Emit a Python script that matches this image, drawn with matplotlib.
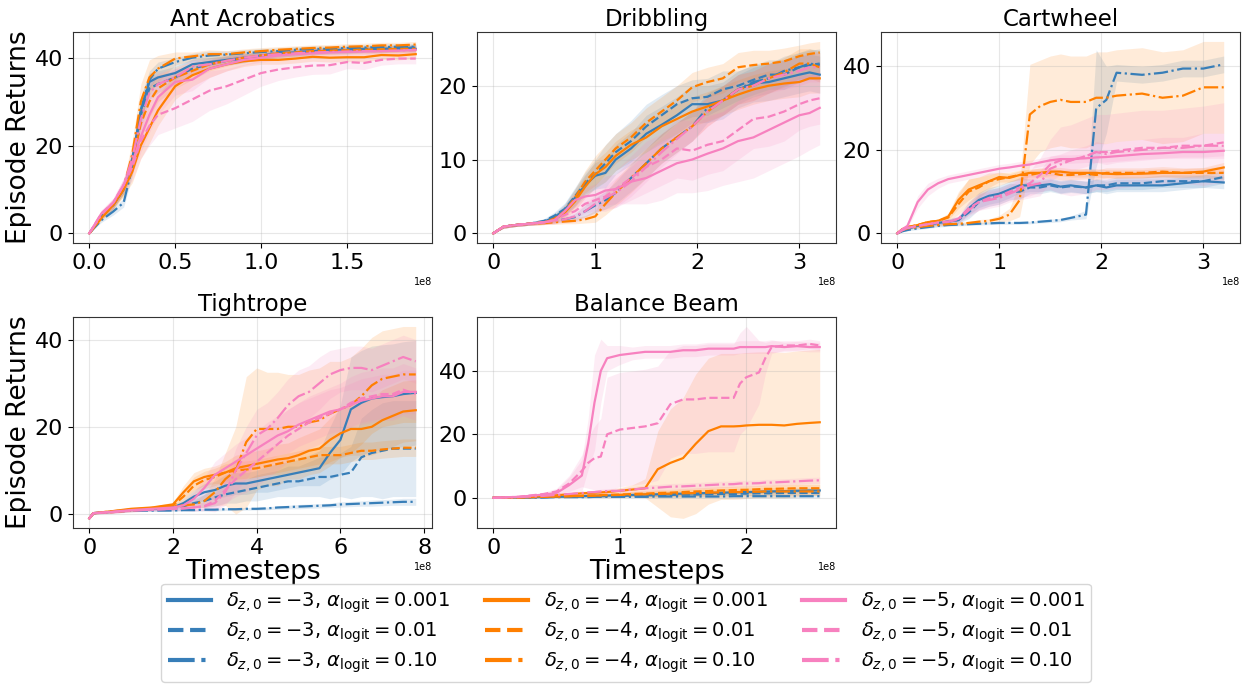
import matplotlib
matplotlib.use("Agg")
import matplotlib.pyplot as plt
import numpy as np
from matplotlib.ticker import MultipleLocator

# series order in every table: d=-3 (a=0.001, 0.01, 0.10), d=-4 (...), d=-5 (...)
COLORS = ["#377eb8", "#ff7f00", "#f781bf"]
STYLES = ["-", "--", "-."]
DELTAS = ["-3", "-4", "-5"]
ALPHAS = ["0.001", "0.01", "0.10"]

TITLES = ["Ant Acrobatics", "Dribbling", "Cartwheel", "Tightrope", "Balance Beam"]
X_STEPS = [0.5e8, 1e8, 1e8, 2e8, 1e8]
Y_STEPS = [20, 10, 20, 20, 20]

# ---------------- Ant Acrobatics (timesteps in 1e8)
ANT_X = [0, 0.07, 0.14, 0.2, 0.25, 0.3, 0.35, 0.4, 0.5, 0.6, 0.7, 0.8, 0.9, 1.0,
         1.1, 1.2, 1.3, 1.4, 1.5, 1.6, 1.7, 1.8, 1.9]
ANT_MEAN = [
    [0, 4.0, 6.5, 10, 17, 28, 34.5, 35.5, 36.5, 38.5, 39, 39.5, 40, 40.3, 40.8, 41, 41.3, 41.5, 41.6, 41.8, 41.8, 42, 42],
    [0, 3.8, 6.5, 10, 16, 27, 33, 34, 35.5, 37.5, 38.5, 39.3, 39.8, 40.5, 41, 41.2, 41.5, 41.7, 41.8, 42, 42, 42.2, 42.3],
    [0, 3.0, 5.0, 7.0, 15, 28, 35, 37.5, 39, 40, 40.5, 40.7, 41, 41.3, 41.5, 41.8, 42, 42, 42.2, 42.3, 42.4, 42.5, 42.5],
    [0, 3.5, 6.5, 10, 14, 20, 24, 28, 33.5, 36, 37.5, 38.5, 39.2, 39.5, 39.5, 39.8, 40.2, 40, 40.1, 40.1, 40.6, 40.5, 40.8],
    [0, 3.5, 6.5, 10, 16, 25, 30, 33, 35.5, 37, 38.5, 39.3, 40, 40.5, 41, 41.2, 41.5, 41.6, 41.7, 41.8, 41.9, 42, 42],
    [0, 3.8, 6.8, 10.5, 18, 30, 35.5, 37.5, 39.8, 40.3, 40.8, 40.8, 41.2, 41.5, 41.8, 42, 42.2, 42.3, 42.5, 42.6, 42.8, 42.8, 43],
    [0, 4.5, 7.0, 11, 16, 22, 27, 31, 34.5, 35, 37.5, 38.5, 39.5, 40, 40.5, 40.8, 41, 41.2, 41.3, 41.4, 41.5, 41.6, 41.8],
    [0, 4.5, 7.0, 11, 15, 21, 24.5, 27, 28.5, 30.5, 32.5, 33.5, 35, 36.5, 37.3, 37.8, 38.2, 38.3, 39, 38.8, 39.5, 39.8, 39.8],
    [0, 4.2, 7.0, 11, 17, 26, 32, 34, 35.5, 38, 38.5, 39.3, 40, 40.5, 40.8, 41, 41.2, 41.3, 41.4, 41.5, 41.5, 41.6, 41.7],
]
ANT_SPREAD = [
    [0, 0.5, 0.8, 1, 2, 3, 2, 1.5, 1.5, 1.2, 1, 1, 1, 0.8, 0.8, 0.8, 0.7, 0.7, 0.7, 0.7, 0.7, 0.7, 0.7],
    [0, 0.5, 0.8, 1, 2, 3, 2.5, 2, 1.5, 1.2, 1, 1, 1, 0.8, 0.8, 0.8, 0.7, 0.7, 0.7, 0.7, 0.7, 0.7, 0.7],
    [0, 0.5, 0.8, 1, 2, 3, 2, 1.5, 1, 1, 1, 0.8, 0.8, 0.8, 0.7, 0.7, 0.7, 0.7, 0.7, 0.7, 0.7, 0.7, 0.7],
    [0, 0.5, 1, 1.5, 2.5, 3, 3.5, 3.5, 3, 2.5, 2, 1.5, 1.2, 1, 1, 1, 1, 1, 1, 1, 1, 1, 1],
    [0, 0.5, 1, 1.5, 2.5, 3.5, 3.5, 3, 2.5, 2, 1.5, 1.2, 1, 1, 1, 0.8, 0.8, 0.8, 0.8, 0.8, 0.8, 0.8, 0.8],
    [0, 0.5, 1, 1.5, 3, 4, 4, 3, 1.5, 1, 1, 0.8, 0.8, 0.8, 0.7, 0.7, 0.7, 0.7, 0.7, 0.7, 0.7, 0.7, 0.7],
    [0, 0.8, 1, 1.5, 2.5, 3.5, 4, 4, 3, 2.5, 2, 1.5, 1.2, 1, 1, 1, 1, 1, 1, 1, 1, 1, 1],
    [0, 0.8, 1, 1.5, 3, 4, 4.5, 4.5, 4.5, 5, 4.5, 4, 3.5, 3, 2.5, 2.2, 2, 2, 1.5, 1.5, 1.2, 1.2, 1.2],
    [0, 0.8, 1, 1.5, 2.5, 3.5, 3, 2.5, 2, 1.5, 1.2, 1, 1, 1, 0.8, 0.8, 0.8, 0.8, 0.8, 0.8, 0.8, 0.8, 0.8],
]

# ---------------- Dribbling
DRIB_X = [0, 0.1, 0.2, 0.35, 0.5, 0.6, 0.7, 0.8, 0.9, 1.0, 1.1, 1.2, 1.35, 1.5, 1.65,
          1.8, 1.95, 2.1, 2.25, 2.4, 2.55, 2.7, 2.85, 3.0, 3.1, 3.2]
DRIB_MEAN = [
    [0, 0.9, 1.1, 1.3, 1.6, 2.2, 3.2, 4.8, 6.5, 7.8, 8.2, 10, 11.5, 13.5, 14.7, 16, 17.5, 17.5, 18, 19.5, 20.3, 20.5, 21, 21.5, 21.8, 21.5],
    [0, 0.9, 1.1, 1.3, 1.7, 2.4, 3.3, 5.0, 6.8, 8.0, 9.5, 11, 12.5, 14.5, 16, 17.5, 18.3, 18.5, 19.5, 20, 20.8, 21.5, 21.5, 22.5, 22.8, 23],
    [0, 0.9, 1.1, 1.3, 1.5, 1.7, 1.9, 2.2, 3.0, 3.8, 4.5, 5.5, 7.5, 9.5, 11.5, 13, 14.5, 17, 18, 19.5, 20.5, 21, 22, 22.5, 23, 22.8],
    [0, 0.9, 1.1, 1.3, 1.5, 1.9, 2.8, 4.3, 6.3, 8.0, 9.0, 10.5, 12, 13, 14.5, 15.5, 16.5, 17.2, 18, 18.8, 19.5, 20, 20.3, 20.5, 21, 21],
    [0, 0.9, 1.1, 1.3, 1.5, 2.0, 3.0, 4.8, 7.0, 8.5, 10, 11.5, 13, 15, 16.5, 18, 19.8, 20.5, 21, 22.5, 22.8, 23, 23.3, 24, 24.3, 24.5],
    [0, 0.9, 1.1, 1.3, 1.4, 1.5, 1.6, 1.7, 1.9, 2.3, 4.0, 5.5, 7.5, 9.5, 11.5, 13, 14.5, 16.5, 18, 19.5, 20, 21, 21.8, 23, 23, 22.5],
    [0, 0.9, 1.1, 1.3, 1.5, 1.8, 3.0, 4.5, 5.0, 5.2, 5.8, 6.0, 7.0, 7.5, 8.5, 9.5, 10, 10.8, 11.5, 12.5, 13, 14, 15, 16, 16.3, 17],
    [0, 0.9, 1.1, 1.3, 1.5, 1.8, 2.5, 3.0, 4.0, 4.5, 5.0, 6.0, 7.5, 9.0, 10, 11.5, 11.2, 12, 12.5, 14, 15.5, 15.8, 16.5, 17.5, 18, 18.3],
    [0, 0.9, 1.1, 1.3, 1.5, 1.7, 1.9, 2.3, 3.0, 4.0, 4.8, 5.5, 7.0, 9.0, 11, 12.8, 14.5, 16.5, 18, 19.5, 20, 21, 21.5, 22, 22.5, 22.5],
]
DRIB_SPREAD = [
    [0, 0.2, 0.2, 0.2, 0.3, 0.5, 0.8, 1.2, 1.5, 1.8, 2, 2, 2.2, 2.5, 2.5, 2.5, 2.5, 2.5, 2.5, 2.5, 2.5, 2.5, 2.5, 2.5, 2.5, 2.5],
    [0, 0.2, 0.2, 0.2, 0.3, 0.5, 0.8, 1.2, 1.5, 2, 2.5, 2.5, 2.8, 3, 2.8, 2.5, 2.5, 2.5, 2.5, 2, 2, 2, 2, 2, 2, 2],
    [0, 0.2, 0.2, 0.2, 0.2, 0.3, 0.3, 0.5, 0.8, 1, 1.2, 1.5, 1.8, 2, 2, 2, 2, 2, 2, 2, 2, 2, 2, 2, 2, 2],
    [0, 0.2, 0.2, 0.2, 0.3, 0.5, 0.8, 1.2, 1.5, 1.8, 2, 2, 2, 2, 2, 2, 2, 2, 2, 2, 2, 2, 2, 2, 2, 2],
    [0, 0.2, 0.2, 0.2, 0.3, 0.5, 0.8, 1.2, 1.5, 2, 2, 2, 2, 2, 2, 2, 2, 2, 2, 2, 2, 1.8, 1.8, 1.5, 1.5, 1.5],
    [0, 0.2, 0.2, 0.2, 0.2, 0.3, 0.3, 0.4, 0.5, 0.8, 1.5, 1.8, 2, 2, 2, 2, 2, 2, 2, 2, 2, 2, 2, 2, 2, 2],
    [0, 0.2, 0.2, 0.2, 0.3, 0.5, 0.8, 1, 1.2, 1.5, 2, 2, 3, 3.5, 4, 4, 4.5, 5, 5, 5.5, 5.5, 5.5, 5.5, 5.5, 5, 5],
    [0, 0.2, 0.2, 0.2, 0.3, 0.5, 0.8, 1, 1.2, 1.5, 2, 2.5, 3, 3.5, 3.5, 4, 4, 4, 4, 4, 4, 4, 4, 3.5, 3.5, 3.5],
    [0, 0.2, 0.2, 0.2, 0.2, 0.3, 0.5, 0.8, 1, 1.2, 1.5, 2, 2, 2, 2, 2, 2, 2, 2, 2, 2, 2, 2, 2, 2, 2],
]

# ---------------- Cartwheel
CART_X = [0, 0.05, 0.1, 0.2, 0.3, 0.4, 0.5, 0.6, 0.7, 0.8, 0.9, 1.0, 1.1, 1.2, 1.3, 1.4,
          1.5, 1.6, 1.7, 1.85, 1.95, 2.05, 2.15, 2.4, 2.6, 2.8, 3.0, 3.2]
CART_MEAN = [
    [0, 0.8, 1.2, 1.8, 2.2, 2.5, 2.8, 3.2, 6.0, 8.0, 9.0, 9.5, 10.5, 11.5, 11.5, 11.5, 11.8, 11.2, 11.5, 11.0, 11.5, 11.0, 11.5, 11.5, 11.5, 12.0, 12.5, 12.2],
    [0, 0.8, 1.2, 1.8, 2.2, 2.5, 2.8, 3.2, 5.0, 7.5, 8.5, 9.0, 10.0, 10.0, 11.0, 11.0, 11.5, 11.0, 11.3, 11.0, 11.5, 11.5, 12.0, 12.0, 12.5, 12.5, 12.5, 13.5],
    [0, 0.5, 0.8, 1.2, 1.5, 1.8, 2.0, 2.1, 2.2, 2.3, 2.4, 2.5, 2.5, 2.5, 2.6, 2.8, 3.0, 3.2, 3.7, 4.5, 30.0, 32.0, 38.5, 38.0, 38.5, 39.5, 39.5, 40.5],
    [0, 1.0, 1.5, 2.0, 2.7, 3.0, 4.0, 8.0, 10.5, 11.5, 12.5, 13.5, 13.3, 14.0, 14.5, 14.5, 14.8, 14.8, 14.5, 14.5, 14.5, 14.3, 14.2, 14.3, 14.5, 14.5, 14.8, 15.8],
    [0, 1.0, 1.5, 2.0, 2.7, 3.0, 3.8, 7.0, 10.0, 11.0, 12.5, 13.0, 13.5, 14.0, 14.0, 14.5, 14.5, 14.0, 14.0, 14.3, 14.0, 14.5, 14.5, 14.5, 14.8, 14.5, 14.5, 14.5],
    [0, 0.8, 1.2, 1.5, 1.8, 2.0, 2.2, 2.3, 2.5, 2.8, 3.0, 3.5, 4.5, 8.0, 28.5, 30.5, 31.5, 32.0, 31.5, 31.5, 32.5, 32.5, 33.0, 33.5, 32.5, 33.0, 35.0, 35.0],
    [0, 1.0, 1.8, 7.5, 10.5, 12.0, 13.0, 13.5, 14.0, 14.5, 15.0, 15.5, 15.8, 16.2, 16.5, 17.0, 17.5, 17.8, 17.8, 18.0, 18.2, 18.3, 18.5, 19.0, 19.2, 19.5, 19.5, 19.8],
    [0, 0.8, 1.3, 1.8, 2.2, 2.6, 2.8, 3.5, 6.0, 7.5, 8.5, 9.0, 10.0, 11.0, 12.0, 14.0, 16.5, 17.5, 17.5, 18.5, 19.5, 19.5, 19.8, 20.5, 20.5, 21.0, 21.0, 21.8],
    [0, 0.8, 1.3, 1.8, 2.2, 2.6, 2.8, 3.3, 5.5, 7.5, 8.0, 8.5, 9.5, 10.5, 11.5, 12.0, 15.5, 16.5, 17.5, 18.5, 19.5, 19.0, 19.5, 20.0, 20.5, 20.5, 21.0, 21.0],
]
CART_SPREAD = [
    [0, 0.2, 0.3, 0.4, 0.5, 0.5, 0.6, 0.8, 1.5, 1.8, 2, 2, 2, 1.8, 1.5, 1.5, 1.5, 1.5, 1.5, 1.5, 1.5, 1.5, 1.5, 1.5, 1.5, 1.5, 1.5, 1.5],
    [0, 0.2, 0.3, 0.4, 0.5, 0.5, 0.6, 0.8, 1.5, 1.8, 2, 2, 2, 1.8, 1.5, 1.5, 1.5, 1.5, 1.5, 1.5, 1.5, 1.5, 1.5, 1.5, 1.5, 1.5, 1.5, 1.5],
    [0, 0.1, 0.2, 0.3, 0.3, 0.3, 0.3, 0.3, 0.3, 0.3, 0.3, 0.3, 0.3, 0.3, 0.3, 0.3, 0.4, 0.4, 0.5, 1, 14, 8, 2, 2, 2, 2, 2, 2],
    [0, 0.2, 0.3, 0.3, 0.3, 0.4, 0.8, 2, 2.5, 2, 1.5, 1.2, 1, 1, 1, 1, 1, 1, 1, 1, 1, 1, 1, 1, 1, 1, 1, 1.2],
    [0, 0.2, 0.3, 0.3, 0.3, 0.4, 0.8, 2.5, 3, 2.5, 2, 1.5, 1.2, 1.2, 1.2, 1.2, 1.2, 1.2, 1.2, 1.2, 1.2, 1.2, 1.2, 1.2, 1.2, 1.2, 1.2, 1.5],
    [0, 0.1, 0.2, 0.3, 0.3, 0.3, 0.3, 0.3, 0.4, 0.5, 0.5, 0.8, 1.5, 4, 12, 11, 11, 11, 11, 11, 11, 11, 11, 11, 11, 11, 11, 11],
    [0, 0.3, 0.5, 1.5, 1.5, 1.2, 1, 1, 1, 1, 1, 1, 1, 1, 1, 1, 1, 1, 1, 1, 1.2, 1.2, 1.2, 1.2, 1.2, 1.2, 1.2, 1.2],
    [0, 0.2, 0.3, 0.4, 0.5, 0.5, 0.6, 0.8, 1.5, 2, 2, 2, 2, 2.5, 3, 4, 6, 8, 8.5, 9, 9, 9, 9, 9, 9, 9, 9.5, 9.5],
    [0, 0.2, 0.3, 0.4, 0.5, 0.5, 0.6, 0.8, 1.5, 2, 2, 2, 2, 2.5, 3, 3, 3, 2.5, 2.5, 2.5, 2.5, 2.5, 2.5, 2.5, 2.5, 2.5, 3, 3],
]

# ---------------- Tightrope
TIGHT_X = [0, 0.1, 0.5, 1.0, 1.5, 2.0, 2.25, 2.5, 2.75, 3.0, 3.25, 3.5, 3.75, 4.0, 4.25,
           4.5, 4.75, 5.0, 5.25, 5.5, 5.75, 6.0, 6.25, 6.5, 6.75, 7.0, 7.25, 7.5, 7.8]
TIGHT_MEAN = [
    [-1, 0.2, 0.5, 1.0, 1.2, 1.5, 2.5, 4.0, 5.0, 5.5, 6.5, 7.0, 7.0, 7.5, 8.0, 8.5, 9.0, 9.5, 10.0, 10.5, 14.0, 17.0, 24.0, 25.5, 26.5, 26.8, 27.0, 27.5, 27.8],
    [-1, 0.2, 0.5, 0.8, 1.0, 1.3, 1.8, 2.5, 3.0, 3.8, 4.5, 5.0, 5.5, 6.0, 6.5, 7.0, 7.5, 7.5, 8.0, 8.5, 8.5, 9.0, 9.5, 13.0, 14.0, 14.5, 15.0, 15.0, 15.0],
    [-1, 0.2, 0.5, 0.8, 0.8, 0.8, 0.9, 0.9, 1.0, 1.0, 1.1, 1.1, 1.2, 1.2, 1.3, 1.5, 1.6, 1.7, 1.8, 1.9, 2.0, 2.2, 2.3, 2.4, 2.5, 2.6, 2.7, 2.8, 2.8],
    [-1, 0.2, 0.6, 1.2, 1.5, 2.2, 5.0, 7.5, 8.5, 9.0, 9.5, 10.5, 11.0, 11.5, 12.0, 12.5, 12.8, 13.5, 14.5, 15.0, 17.0, 18.5, 19.5, 19.5, 20.0, 21.5, 22.5, 23.5, 23.8],
    [-1, 0.2, 0.6, 1.0, 1.4, 2.0, 4.0, 6.5, 7.8, 8.5, 9.5, 10.0, 10.2, 10.5, 11.0, 11.5, 12.0, 12.5, 13.0, 13.5, 13.5, 13.5, 14.0, 14.5, 14.5, 14.8, 15.0, 15.2, 15.2],
    [-1, 0.2, 0.4, 0.8, 1.2, 1.8, 2.0, 2.2, 3.0, 5.0, 8.0, 10.0, 16.5, 19.5, 19.5, 19.5, 20.0, 20.0, 21.0, 21.5, 23.0, 24.0, 25.0, 27.0, 29.5, 31.0, 31.5, 32.0, 32.0],
    [-1, 0.2, 0.5, 0.9, 1.2, 1.5, 2.0, 3.5, 6.0, 9.0, 10.5, 12.0, 13.5, 15.0, 16.5, 18.0, 19.0, 20.5, 21.5, 22.5, 23.5, 24.0, 25.0, 26.0, 26.5, 27.0, 27.0, 28.0, 28.0],
    [-1, 0.2, 0.4, 0.8, 1.0, 1.2, 1.3, 1.5, 1.8, 3.0, 5.5, 8.0, 10.0, 12.0, 14.0, 16.0, 18.0, 19.5, 21.0, 22.0, 23.0, 24.0, 25.5, 26.5, 27.0, 27.5, 27.5, 28.5, 27.5],
    [-1, 0.2, 0.4, 0.8, 1.0, 1.2, 1.3, 1.5, 1.8, 2.5, 5.0, 10.0, 14.0, 18.0, 19.5, 22.0, 25.0, 27.0, 28.0, 30.0, 32.0, 33.0, 33.5, 33.5, 33.0, 34.0, 35.0, 36.0, 35.0],
]
TIGHT_SPREAD = [
    [0, 0.2, 0.3, 0.3, 0.3, 0.5, 1, 1.5, 2, 2, 2.5, 2.5, 2.5, 2.5, 3, 3, 3, 3, 3.5, 4, 6, 8, 12, 12, 12, 12, 12, 12, 12],
    [0, 0.2, 0.3, 0.3, 0.3, 0.5, 0.8, 1, 1.5, 2, 2, 2.5, 2.5, 3, 3, 3, 3.5, 3.5, 4, 4.5, 5, 5, 6, 9, 10, 11, 11, 11, 11],
    [0, 0.1, 0.2, 0.2, 0.2, 0.2, 0.2, 0.2, 0.3, 0.3, 0.3, 0.3, 0.3, 0.3, 0.3, 0.4, 0.4, 0.5, 0.5, 0.5, 0.5, 0.6, 0.6, 0.6, 0.7, 0.7, 0.7, 0.8, 0.8],
    [0, 0.2, 0.3, 0.3, 0.3, 0.5, 1.5, 2, 2, 2, 2.5, 3, 3, 3, 3, 3.5, 3.5, 4, 4, 4.5, 5, 5.5, 6, 6, 6.5, 7, 7, 7, 7],
    [0, 0.2, 0.3, 0.3, 0.3, 0.5, 1.5, 2, 2, 2, 2, 2, 2, 2, 2, 2, 2, 2, 2, 2, 2, 2, 2, 2, 2, 2, 2, 2, 2],
    [0, 0.2, 0.2, 0.3, 0.3, 0.3, 0.5, 0.8, 1.5, 3, 6, 10, 15, 14, 13, 13, 12, 12, 12, 12, 12, 11, 11, 11, 11, 11, 11, 11, 11],
    [0, 0.2, 0.3, 0.3, 0.3, 0.5, 1, 1.5, 2.5, 3, 3.5, 4, 4, 4, 4.5, 4.5, 5, 5, 5, 5, 5, 5, 5, 5, 5, 5, 5, 5, 5],
    [0, 0.2, 0.3, 0.3, 0.3, 0.4, 0.5, 0.8, 1, 2, 3, 4, 5, 5.5, 6, 6, 6, 6, 6, 6, 6, 6, 6, 6, 6, 6, 6, 6, 6],
    [0, 0.2, 0.3, 0.3, 0.3, 0.4, 0.5, 0.8, 1, 2, 3, 5, 6, 6, 6, 6, 6, 6, 6, 6, 5.5, 5, 5, 5, 5, 5, 5, 5, 5],
]

# ---------------- Balance Beam
BEAM_X = [0, 0.2, 0.4, 0.5, 0.6, 0.7, 0.75, 0.8, 0.85, 0.9, 1.0, 1.1, 1.2, 1.3, 1.4,
          1.5, 1.6, 1.7, 1.8, 1.9, 1.95, 2.0, 2.1, 2.15, 2.2, 2.3, 2.4, 2.5, 2.58]
BEAM_MEAN = [
    [0, 0.1, 0.2, 0.3, 0.4, 0.5, 0.6, 0.6, 0.7, 0.7, 0.8, 0.9, 1.0, 1.1, 1.2, 1.3, 1.4, 1.5, 1.6, 1.7, 1.8, 1.8, 1.9, 2.0, 2.0, 2.1, 2.2, 2.3, 2.3],
    [0, 0.1, 0.2, 0.3, 0.3, 0.4, 0.4, 0.5, 0.5, 0.5, 0.6, 0.7, 0.8, 0.8, 0.9, 1.0, 1.0, 1.1, 1.2, 1.2, 1.3, 1.3, 1.4, 1.4, 1.4, 1.5, 1.5, 1.5, 1.5],
    [0, 0.1, 0.1, 0.2, 0.2, 0.2, 0.2, 0.3, 0.3, 0.3, 0.3, 0.3, 0.3, 0.4, 0.4, 0.4, 0.4, 0.4, 0.4, 0.5, 0.5, 0.5, 0.5, 0.5, 0.5, 0.5, 0.5, 0.5, 0.5],
    [0, 0.2, 0.5, 0.8, 1.1, 1.4, 1.5, 1.6, 1.7, 1.8, 2.2, 2.6, 3.0, 9.0, 11.0, 12.5, 17.0, 21.0, 22.5, 22.5, 22.6, 22.8, 23.0, 23.0, 23.0, 22.8, 23.3, 23.6, 23.8],
    [0, 0.1, 0.3, 0.4, 0.5, 0.6, 0.7, 0.7, 0.8, 0.9, 1.0, 1.2, 1.3, 1.5, 1.6, 1.8, 2.0, 2.1, 2.3, 2.4, 2.5, 2.5, 2.7, 2.8, 2.8, 2.9, 3.0, 3.0, 3.0],
    [0, 0.1, 0.3, 0.4, 0.5, 0.6, 0.6, 0.7, 0.7, 0.8, 0.9, 1.0, 1.1, 1.2, 1.3, 1.4, 1.5, 1.6, 1.7, 1.8, 1.8, 1.9, 1.9, 2.0, 2.0, 2.0, 2.0, 2.0, 2.0],
    [0, 0.3, 1.0, 1.5, 4.0, 7.0, 17.0, 30.0, 40.0, 44.0, 45.0, 45.5, 46.0, 46.0, 46.0, 46.5, 46.5, 47.0, 47.0, 47.0, 47.5, 47.5, 47.5, 47.5, 47.8, 47.5, 47.8, 47.5, 47.5],
    [0, 0.3, 1.2, 2.0, 4.5, 8.5, 11.0, 12.5, 13.0, 20.0, 21.5, 22.0, 22.5, 23.5, 29.5, 31.0, 31.0, 31.5, 31.5, 31.5, 36.0, 38.0, 39.5, 44.0, 47.5, 48.0, 48.0, 48.5, 48.0],
    [0, 0.2, 0.6, 0.9, 1.2, 1.5, 1.7, 1.8, 2.0, 2.1, 2.2, 2.6, 3.0, 3.2, 3.5, 3.6, 3.8, 4.0, 4.2, 4.3, 4.5, 4.5, 4.6, 4.8, 4.8, 5.0, 5.2, 5.4, 5.5],
]
BEAM_SPREAD = [
    [0, 0.1, 0.1, 0.2, 0.2, 0.2, 0.2, 0.3, 0.3, 0.3, 0.3, 0.3, 0.3, 0.4, 0.4, 0.4, 0.4, 0.4, 0.4, 0.5, 0.5, 0.5, 0.5, 0.5, 0.5, 0.5, 0.5, 0.5, 0.5],
    [0, 0.1, 0.1, 0.2, 0.2, 0.2, 0.2, 0.3, 0.3, 0.3, 0.3, 0.3, 0.3, 0.4, 0.4, 0.4, 0.4, 0.4, 0.4, 0.5, 0.5, 0.5, 0.5, 0.5, 0.5, 0.5, 0.5, 0.5, 0.5],
    [0, 0.1, 0.1, 0.2, 0.2, 0.2, 0.2, 0.3, 0.3, 0.3, 0.3, 0.3, 0.3, 0.4, 0.4, 0.4, 0.4, 0.4, 0.4, 0.5, 0.5, 0.5, 0.5, 0.5, 0.5, 0.5, 0.5, 0.5, 0.5],
    [0, 0.2, 0.3, 0.4, 0.5, 0.6, 0.6, 0.7, 0.7, 0.8, 1, 1.5, 3, 12, 17, 19, 22, 23, 23, 23, 23, 23, 23, 23, 23, 23, 23, 23, 23],
    [0, 0.1, 0.2, 0.3, 0.4, 0.5, 0.5, 0.6, 0.6, 0.6, 0.7, 0.8, 0.9, 1.0, 1.0, 1.1, 1.1, 1.2, 1.2, 1.2, 1.2, 1.2, 1.2, 1.2, 1.2, 1.2, 1.2, 1.2, 1.2],
    [0, 0.1, 0.2, 0.3, 0.4, 0.5, 0.5, 0.6, 0.6, 0.6, 0.7, 0.8, 0.9, 1.0, 1.0, 1.1, 1.1, 1.2, 1.2, 1.2, 1.2, 1.2, 1.2, 1.2, 1.2, 1.2, 1.2, 1.2, 1.2],
    [0, 0.2, 0.5, 1, 2.5, 5, 8, 15, 10, 4, 3, 2, 2, 2, 2, 2, 2, 2, 2, 2, 2, 2, 2, 2, 2, 1.5, 1.5, 1.5, 1.5],
    [0, 0.2, 0.5, 1, 2.5, 5, 8, 10, 12, 18, 18, 18, 18, 18, 17, 17, 17, 17, 17, 17, 16, 16, 10, 5, 2, 1.5, 1.5, 1.5, 1.5],
    [0, 0.1, 0.2, 0.3, 0.4, 0.5, 0.5, 0.6, 0.7, 0.8, 0.8, 0.9, 1, 1, 1, 1, 1, 1, 1, 1, 1, 1, 1, 1, 1, 1, 1, 1, 1],
]

PANELS = [
    (ANT_X, ANT_MEAN, ANT_SPREAD),
    (DRIB_X, DRIB_MEAN, DRIB_SPREAD),
    (CART_X, CART_MEAN, CART_SPREAD),
    (TIGHT_X, TIGHT_MEAN, TIGHT_SPREAD),
    (BEAM_X, BEAM_MEAN, BEAM_SPREAD),
]


def draw_panel(ax, xs, means, spreads):
    x = np.array(xs) * 1e8
    for i, (m, s) in enumerate(zip(means, spreads)):
        m = np.array(m)
        s = np.array(s)
        c = COLORS[i // 3]
        ax.fill_between(x, m - s, m + s, color=c, alpha=0.15, linewidth=0)
        ax.plot(x, m, color=c, linestyle=STYLES[i % 3], linewidth=1.6)


fig, axes = plt.subplots(2, 3, figsize=(12.45, 6.92), dpi=100)
fig.subplots_adjust(left=0.0586, right=0.996, top=0.954, bottom=0.237,
                    wspace=0.125, hspace=0.35)
flat = axes.ravel()

for k, (ax, (xs, means, spreads)) in enumerate(zip(flat, PANELS)):
    draw_panel(ax, xs, means, spreads)
    ax.set_title(TITLES[k], fontsize=16.5, pad=4)
    ax.grid(alpha=0.3)
    ax.tick_params(labelsize=16)
    ax.xaxis.set_major_locator(MultipleLocator(X_STEPS[k]))
    ax.yaxis.set_major_locator(MultipleLocator(Y_STEPS[k]))
    ax.xaxis.get_offset_text().set_fontsize(7)
    for sp in ax.spines.values():
        sp.set_color("#333333")
    if k % 3 == 0:
        ax.set_ylabel("Episode Returns", fontsize=19, labelpad=2)
    if k >= 3:
        ax.set_xlabel("Timesteps", fontsize=19, labelpad=1)

flat[5].remove()

handles = []
labels = []
for di, d in enumerate(DELTAS):
    for ai, a in enumerate(ALPHAS):
        h, = flat[0].plot([], [], color=COLORS[di], linestyle=STYLES[ai], linewidth=3)
        handles.append(h)
        labels.append(r"$\delta_{z,0}=%s$, $\alpha_{\mathrm{logit}}=%s$" % (d, a))

fig.legend(handles, labels, loc="lower center", bbox_to_anchor=(0.503, 0.0),
           ncol=3, fontsize=14, columnspacing=1.8, handlelength=2.2,
           borderpad=0.35, labelspacing=0.3)

fig.savefig("out.png", dpi=100)
